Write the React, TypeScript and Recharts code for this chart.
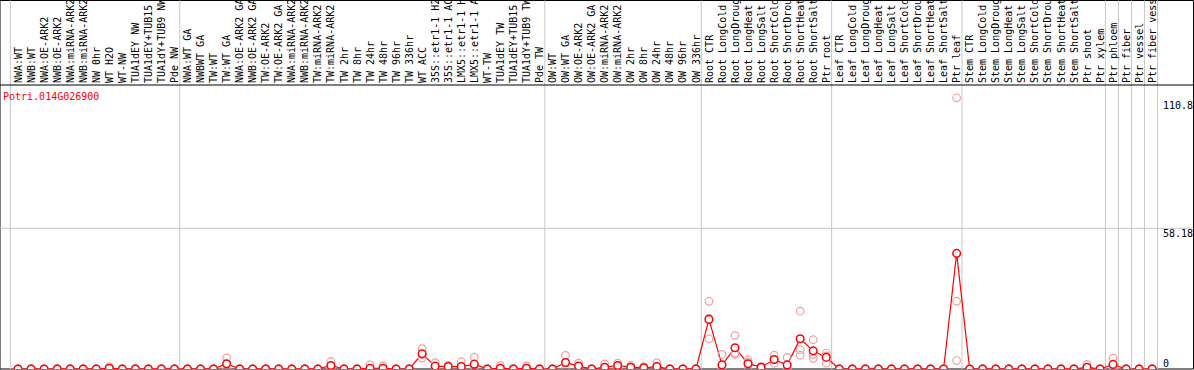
import React from 'react';
import { ComposedChart, Line, XAxis, YAxis, ReferenceLine, ReferenceArea } from 'recharts';

const categories = [
  'NWA:WT', 'NWB:WT', 'NWA:OE-ARK2', 'NWB:OE-ARK2', 'NWA:miRNA-ARK2', 'NWB:miRNA-ARK2', 'NW 0hr', 'WT H2O', 'WT-NW', 'TUA1dEY NW',
  'TUA1dEY+TUB15 NW', 'TUA1dY+TUB9 NW', 'Pde NW', 'NWA:WT GA', 'NWBWT GA', 'TW:WT', 'TW:WT GA', 'NWA:OE-ARK2 GA', 'NWB:OE-ARK2 GA', 'TW:OE-ARK2',
  'TW:OE-ARK2 GA', 'NWA:miRNA-ARK2 GA', 'NWB:miRNA-ARK2 GA', 'TW:miRNA-ARK2', 'TW:miRNA-ARK2 GA', 'TW 2hr', 'TW 8hr', 'TW 24hr', 'TW 48hr', 'TW 96hr',
  'TW 336hr', 'WT ACC', '35S::etr1-1 H2O', '35S::etr1-1 ACC', 'LMX5::etr1-1 H2O', 'LMX5::etr1-1 ACC', 'WT-TW', 'TUA1dEY TW', 'TUA1dEY+TUB15 TW', 'TUA1dY+TUB9 TW',
  'Pde TW', 'OW:WT', 'OW:WT GA', 'OW:OE-ARK2', 'OW:OE-ARK2 GA', 'OW:miRNA-ARK2', 'OW:miRNA-ARK2 GA', 'OW 2hr', 'OW 8hr', 'OW 24hr',
  'OW 48hr', 'OW 96hr', 'OW 336hr', 'Root CTR', 'Root LongCold', 'Root LongDrought', 'Root LongHeat', 'Root LongSalt', 'Root ShortCold', 'Root ShortDrought',
  'Root ShortHeat', 'Root ShortSalt', 'Ptr root', 'Leaf CTR', 'Leaf LongCold', 'Leaf LongDrought', 'Leaf LongHeat', 'Leaf LongSalt', 'Leaf ShortCold', 'Leaf ShortDrought',
  'Leaf ShortHeat', 'Leaf ShortSalt', 'Ptr leaf', 'Stem CTR', 'Stem LongCold', 'Stem LongDrought', 'Stem LongHeat', 'Stem LongSalt', 'Stem ShortCold', 'Stem ShortDrought',
  'Stem ShortHeat', 'Stem ShortSalt', 'Ptr shoot', 'Ptr xylem', 'Ptr phloem', 'Ptr fiber', 'Ptr vessel', 'Ptr fiber vessel',
];

const meanValues = [
  0, 0, 0, 0, 0, 0, 0, 0.3, 0, 0,
  0, 0, 0, 0, 0, 0, 2.2, 0, 0, 0,
  0, 0, 0, 0, 1.45, 0, 0, 0.3, 0.3, 0,
  0, 6.3, 1.2, 1.0, 1.0, 2.0, 0, 0.3, 0, 0.3,
  0, 0, 2.7, 1.2, 0, 0.75, 1.45, 0.75, 0.5, 1.0,
  0, 0, 0, 20.5, 1.7, 8.8, 2.2, 0.75, 3.9, 1.7,
  12.5, 7.5, 4.8, 0, 0, 0, 0, 0, 0, 0,
  0, 0, 47.8, 0, 0, 0, 0, 0, 0, 0,
  0, 0, 0.75, 0, 1.9, 0, 0, 0,
];

const rep1 = [
  0, 0, 0, 0, 0, 0, 0, 1.0, 0, 0,
  0, 0, 0, 0, 0, 0, 4.6, 0, 0, 0,
  0, 0, 0, 0, 3.1, 0, 0, 1.7, 1.3, 0,
  0, 8.4, 2.6, 1.5, 3.0, 4.9, 0, 1.5, 0, 1.3,
  0, 0, 5.6, 2.4, 0, 2.1, 2.4, 1.45, 1.0, 2.6,
  0, 0, 0, 28.0, 6.0, 13.8, 3.8, 1.0, 5.7, 4.8,
  23.9, 12.1, 6.6, 0, 0, 0, 0, 0, 0, 0,
  0, 0, 112.1, 0, 0, 0, 0, 0, 0, 0,
  0, 0, 1.9, 0, 4.5, 0, 0, 0,
];

const rep2 = [
  0, 0, 0, 0, 0, 0, 0, 0, 0, 0,
  0, 0, 0, 0, 0, 0, 2.0, 0, 0, 0,
  0, 0, 0, 0, 1.2, 0, 0, 0, 0, 0,
  0, 6.0, 1.0, 1.0, 0, 1.0, 0, 0, 0, 0,
  0, 0, 2.5, 1.2, 0, 0, 1.5, 0.8, 0.5, 0.4,
  0, 0, 0, 21.0, 0, 6.6, 2.8, 1.0, 3.9, 0.3,
  8.0, 6.0, 5.4, 0, 0, 0, 0, 0, 0, 0,
  0, 0, 28.0, 0, 0, 0, 0, 0, 0, 0,
  0, 0, 0.4, 0, 1.2, 0, 0, 0,
];

const rep3 = [
  0, 0, 0, 0, 0, 0, 0, 0, 0, 0,
  0, 0, 0, 0, 0, 0, 0, 0, 0, 0,
  0, 0, 0, 0, 0, 0, 0, 0, 0, 0,
  0, 4.5, 0, 0.5, 0, 0, 0, 0, 0, 0,
  0, 0, 0, 0, 0, 0, 0.5, 0, 0, 0,
  0, 0, 0, 12.5, 0, 6.0, 0, 0.3, 2.4, 0,
  5.7, 4.4, 2.4, 0, 0, 0, 0, 0, 0, 0,
  0, 0, 3.5, 0, 0, 0, 0, 0, 0, 0,
  0, 0, 0, 0, 0, 0, 0, 0,
];

// last index of each group (group separators drawn just after these)
const groupEnds = [-1, 12, 40, 52, 62, 72, 83, 84, 85, 86, 87];
const yTicks = [0, 58.18, 110.8];
const title = 'Potri.014G026900';

const data = categories.map((name, i) => ({
  i,
  name,
  mean: meanValues[i],
  r1: rep1[i],
  r2: rep2[i],
  r3: rep3[i],
}));

const W = 1194;
const H = 370;
const X_MIN = -1.3825;
const X_MAX = 90.17;
const Y_MAX = 117.4;
const TOP_AXIS_H = 85;
const MARGIN_BOTTOM = 1;
// value corresponding to the very top of the svg (label area)
const Y_SVG_TOP = Y_MAX * (H - MARGIN_BOTTOM - 0.5) / (H - MARGIN_BOTTOM - TOP_AXIS_H);

const FONT = '"DejaVu Sans Mono", monospace';

const TopTick = (props: any) => {
  const { x, payload } = props;
  const label = categories[payload.value] ?? '';
  return (
    <text
      transform={`translate(${x + 3.6},83) rotate(-90)`}
      textAnchor="start"
      fontFamily={FONT}
      fontSize={10}
      fill="#000"
    >
      {label}
    </text>
  );
};

const RightTick = (props: any) => {
  const { y, payload } = props;
  const v = payload.value;
  const dy = v === 0 ? -2.5 : 8.5;
  return (
    <text x={1163} y={y + dy} textAnchor="start" fontFamily={FONT} fontSize={10} fill="#000">
      {String(v)}
    </text>
  );
};

export default function App() {
  return (
    <div style={{ position: 'absolute', left: 0, top: 0, width: W, height: H, background: '#fff' }}>
      <ComposedChart
        width={W}
        height={H}
        data={data}
        margin={{ top: 0, right: 0.5, bottom: MARGIN_BOTTOM, left: 0 }}
      >
        <XAxis
          dataKey="i"
          type="number"
          orientation="top"
          height={TOP_AXIS_H}
          domain={[X_MIN, X_MAX]}
          allowDataOverflow
          ticks={categories.map((_, i) => i)}
          interval={0}
          tick={<TopTick />}
          axisLine={false}
          tickLine={false}
        />
        <YAxis
          orientation="right"
          type="number"
          width={1}
          mirror
          domain={[0, Y_MAX]}
          allowDataOverflow
          ticks={yTicks}
          interval={0}
          tick={<RightTick />}
          tickSize={0}
          tickMargin={0}
          axisLine={false}
          tickLine={false}
        />
        <ReferenceLine y={58.18} stroke="#c8c8c8" strokeWidth={1} />
        {groupEnds.map((g) => (
          <ReferenceLine
            key={g}
            segment={[{ x: g + 0.41, y: 0 }, { x: g + 0.41, y: Y_SVG_TOP }]}
            stroke="#c8c8c8"
            strokeWidth={1}
            ifOverflow="visible"
          />
        ))}
        <ReferenceLine
          segment={[{ x: X_MIN, y: Y_MAX }, { x: X_MAX, y: Y_MAX }]}
          stroke="#000"
          strokeWidth={1}
          ifOverflow="visible"
        />
        <ReferenceArea
          x1={X_MIN}
          x2={X_MAX}
          y1={0}
          y2={Y_SVG_TOP}
          stroke="#000"
          strokeWidth={1}
          fill="none"
          fillOpacity={0}
          ifOverflow="visible"
        />
        {['r1', 'r2', 'r3'].map((k) => (
          <Line
            key={k}
            dataKey={k}
            stroke="none"
            isAnimationActive={false}
            activeDot={false}
            dot={{ r: 3.8, stroke: '#f0a0a0', strokeWidth: 1.2, fill: 'none' }}
          />
        ))}
        <Line
          dataKey="mean"
          stroke="#ff0000"
          strokeWidth={1.2}
          isAnimationActive={false}
          activeDot={false}
          dot={{ r: 3.8, stroke: '#ff0000', strokeWidth: 1.5, fill: '#ffffff' }}
        />
      </ComposedChart>
      <div
        style={{
          position: 'absolute',
          left: 3,
          top: 91,
          fontFamily: FONT,
          fontSize: 10,
          lineHeight: '12px',
          color: '#ff0000',
          whiteSpace: 'nowrap',
        }}
      >
        {title}
      </div>
    </div>
  );
}
